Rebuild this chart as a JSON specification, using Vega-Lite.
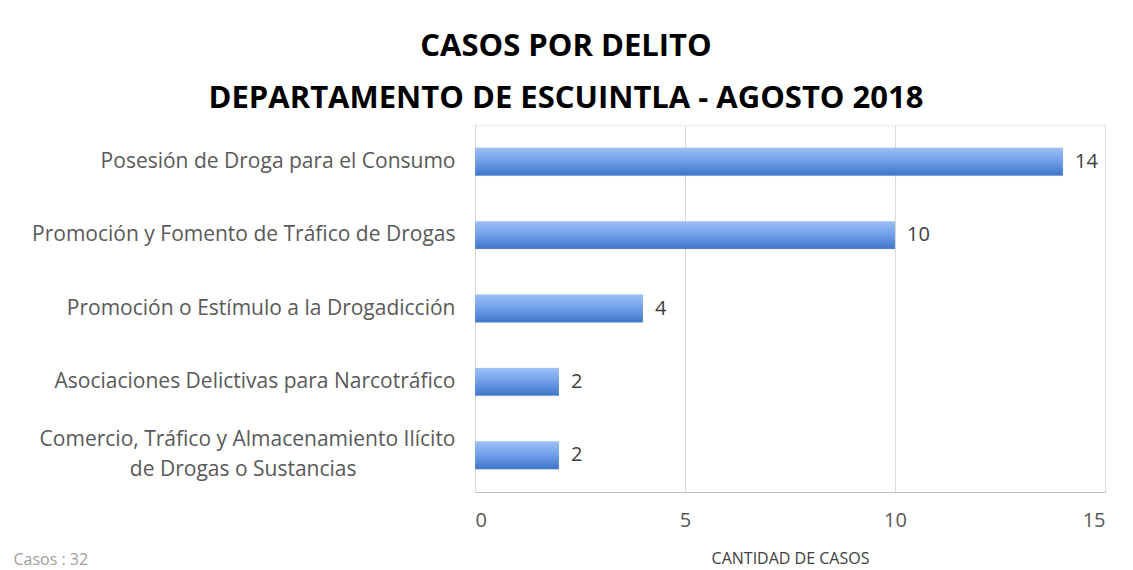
{
  "$schema": "https://vega.github.io/schema/vega-lite/v6.json",
  "autosize": {"type": "none"},
  "width": 630,
  "height": 367,
  "padding": {"left": 475, "top": 125, "right": 28, "bottom": 78},
  "background": "white",
  "title": {
    "text": ["CASOS POR DELITO", "DEPARTAMENTO DE ESCUINTLA - AGOSTO 2018"],
    "anchor": "middle",
    "frame": "group",
    "dx": -224,
    "dy": 43,
    "offset": 22,
    "font": "Open Sans",
    "fontSize": 31,
    "fontWeight": "bold",
    "color": "#000000",
    "lineHeight": 52,
    "baseline": "bottom"
  },
  "data": {
    "values": [
      {"delito": "Posesión de Droga para el Consumo", "casos": 14},
      {"delito": "Promoción y Fomento de Tráfico de Drogas", "casos": 10},
      {"delito": "Promoción o Estímulo a la Drogadicción", "casos": 4},
      {"delito": "Asociaciones Delictivas para Narcotráfico", "casos": 2},
      {"delito": "Comercio, Tráfico y Almacenamiento Ilícito|de Drogas o Sustancias", "casos": 2}
    ]
  },
  "encoding": {
    "y": {
      "field": "delito",
      "type": "nominal",
      "sort": null,
      "scale": {"paddingInner": 0.62, "paddingOuter": 0.31},
      "axis": {
        "title": "Casos : 32",
        "titleAngle": 0,
        "titleX": -462,
        "titleY": 439,
        "titleAlign": "left",
        "titleBaseline": "alphabetic",
        "titleFont": "Open Sans",
        "titleFontSize": 16,
        "titleFontWeight": "normal",
        "titleColor": "#a0a0a0",
        "domain": false,
        "ticks": false,
        "labelPadding": 20,
        "labelFont": "Open Sans",
        "labelFontSize": 21,
        "labelColor": "#595959",
        "labelLimit": 470,
        "labelLineHeight": 30,
        "labelOffset": {"condition": {"test": "indexof(datum.value, '|') >= 0", "value": -15}, "value": 0},
        "labelExpr": "indexof(datum.value, '|') >= 0 ? [split(datum.value, '|')[0], split(datum.value, '|')[1] + '\u2003\u2003\u2003\u2003\u2800'] : datum.value"
      }
    },
    "x": {
      "field": "casos",
      "type": "quantitative",
      "scale": {"domain": [0, 15]},
      "axis": {
        "values": [0, 5, 10, 15],
        "title": "CANTIDAD DE CASOS",
        "titleFont": "Open Sans",
        "titleFontSize": 16,
        "titleFontWeight": "normal",
        "titleColor": "#404040",
        "titlePadding": 20,
        "domain": true,
        "domainColor": "#bfbfbf",
        "ticks": false,
        "grid": true,
        "gridColor": "#d9d9d9",
        "labelPadding": 18,
        "labelFont": "Open Sans",
        "labelFontSize": 20,
        "labelColor": "#595959"
      }
    }
  },
  "layer": [
    {
      "mark": {
        "type": "bar",
        "fill": {
          "gradient": "linear",
          "x1": 0, "y1": 0, "x2": 0, "y2": 1,
          "stops": [
            {"offset": 0, "color": "#9dc0f7"},
            {"offset": 0.5, "color": "#6f9ee8"},
            {"offset": 1, "color": "#3d74c9"}
          ]
        },
        "stroke": "#c8c8c8",
        "strokeWidth": 0.5,
        "strokeOpacity": 0.6
      }
    },
    {
      "mark": {
        "type": "text",
        "align": "left",
        "baseline": "middle",
        "dx": 12,
        "font": "Open Sans",
        "fontSize": 20,
        "color": "#404040"
      },
      "encoding": {"text": {"field": "casos", "type": "quantitative"}}
    }
  ],
  "config": {
    "view": {"stroke": "#d9d9d9", "strokeDash": [2, 2]}
  }
}
